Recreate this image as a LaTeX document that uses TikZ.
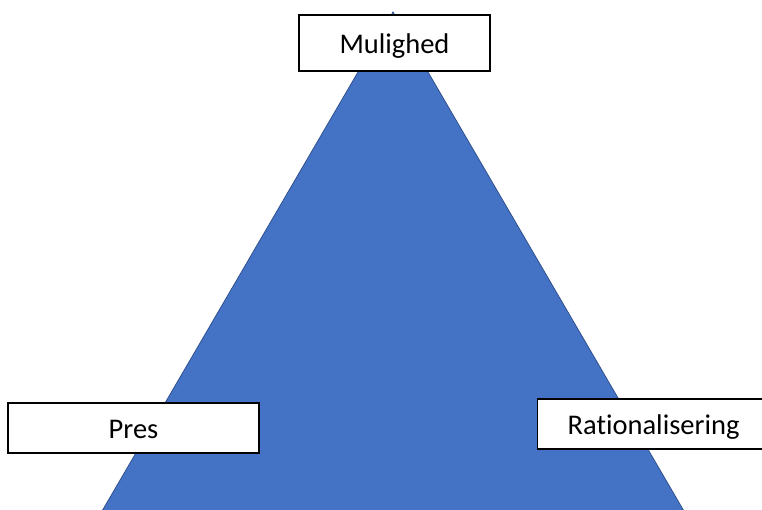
\documentclass[tikz,border=0pt]{standalone}
\usepackage{fontspec}
\setmainfont{Carlito}[Ligatures=NoCommon]
\usepackage{xcolor}
\usetikzlibrary{positioning}
\definecolor{triblue}{HTML}{4472C4}
\definecolor{triedge}{HTML}{2F528F}
\begin{document}
\begin{tikzpicture}[x=1pt,y=-1pt,
  label box/.style={draw=black,fill=white,line width=1.3pt,rectangle,
    font=\fontsize{28.5}{32}\selectfont,text height=20pt,text depth=0pt}]
\useasboundingbox (0,0) rectangle (762,509);
\clip (0,0) rectangle (762,509);
\coordinate (top) at (393,12);
\coordinate (left) at (91,530);
\coordinate (right) at (695,530);
\draw[fill=triblue,draw=triedge,line width=0.8pt] (top) -- (left) -- (right) -- cycle;
\node[label box,minimum width=191pt,minimum height=56pt] (mulighed) at (394.5,43) {Mulighed};
\node[label box,minimum width=251pt,minimum height=50pt] (pres) at (133.5,428) {Pres};
\node[label box,anchor=west,align=left,text width=220pt,inner xsep=30pt,
  minimum height=50pt] (rational) at (537,424) {Rationalisering};
\end{tikzpicture}
\end{document}
